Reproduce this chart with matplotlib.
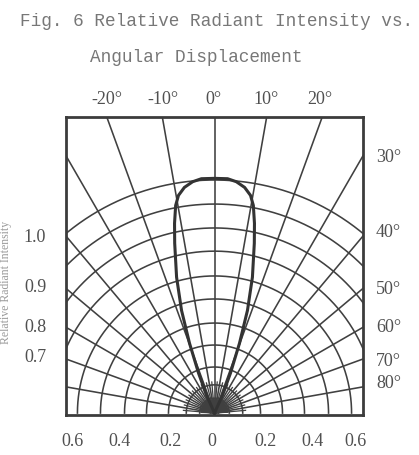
import numpy as np
import matplotlib
matplotlib.use("Agg")
import matplotlib.pyplot as plt

# Kurva vyzařovací charakteristiky (úhel od osy ve stupních, relativní intenzita)
angles = [0, 3.2, 5.4, 7.6, 9.4, 10.6, 11.9, 13.2, 15.6, 17.8, 19.7, 21.8, 24.0, 25.0]
intensity = [1.0, 1.0, 0.99, 0.97, 0.94, 0.90, 0.826, 0.743, 0.601, 0.460, 0.316, 0.183, 0.084, 0.0]

# Popisky
top_labels = ["-20°", "-10°", "0°", "10°", "20°"]
right_labels = ["30°", "40°", "50°", "60°", "70°", "80°"]
left_labels = ["1.0", "0.9", "0.8", "0.7"]
bottom_labels = ["0.6", "0.4", "0.2", "0", "0.2", "0.4", "0.6"]

# Mřížka (poloměry kružnic v jednotkách osy, 1 = polovina šířky rámu)
ring_radii = [0.027, 0.10, 0.19, 0.31, 0.458, 0.606, 0.768, 0.923, 1.09, 1.246, 1.407, 1.569]
main_spokes = list(range(-80, 81, 10))
R_PEAK = 1.58

fig = plt.figure(figsize=(4.19, 4.55), dpi=100)
ax = fig.add_axes([66 / 419, 40 / 455, 297 / 419, 298 / 455])
ax.set_xlim(-1, 1)
ax.set_ylim(-0.013, 1.993)
ax.set_xticks([])
ax.set_yticks([])
for s in ax.spines.values():
    s.set_linewidth(2.0)
    s.set_color("#3c3c3c")

grid_col = "#404040"
t = np.radians(np.linspace(-90, 90, 400))
for r in ring_radii:
    ax.plot(r * np.sin(t), r * np.cos(t), color=grid_col, lw=1.15)

for a in main_spokes:
    ar = np.radians(a)
    ax.plot([0, 3 * np.sin(ar)], [0, 3 * np.cos(ar)], color=grid_col, lw=1.15)

# hustší paprsky u počátku
for a in range(-85, 86, 10):
    ar = np.radians(a)
    ax.plot([0, 0.21 * np.sin(ar)], [0, 0.21 * np.cos(ar)], color=grid_col, lw=0.9)
for a in np.arange(-88, 89, 2.5):
    ar = np.radians(a)
    ax.plot([0, 0.09 * np.sin(ar)], [0, 0.09 * np.cos(ar)], color=grid_col, lw=0.7)

# křivka (symetrická)
th = np.radians(np.array(angles))
r = np.array(intensity) * R_PEAK
ang_full = np.concatenate([-th[::-1], th[1:]])
r_full = np.concatenate([r[::-1], r[1:]])
ax.plot(r_full * np.sin(ang_full), r_full * np.cos(ang_full), color="#333333", lw=2.2, zorder=5)

# texty
title_kw = dict(family="Liberation Mono", color="#777777", fontsize=12.8, ha="center", va="center")
fig.text(217 / 419, 1 - 22 / 455, "Fig. 6 Relative Radiant Intensity vs.", **title_kw)
fig.text(196 / 419, 1 - 58 / 455, "Angular Displacement", **title_kw)

lab_kw = dict(family="Liberation Serif", color="#505050", fontsize=13, va="center")
top_x = [107, 163, 213, 266, 320]
for lab, x in zip(top_labels, top_x):
    fig.text(x / 419, 1 - 100 / 455, lab, ha="center", **lab_kw)

right_y = [158, 233, 290, 327, 362, 384]
for lab, y in zip(right_labels, right_y):
    fig.text(376 / 419, 1 - y / 455, lab, ha="left", **lab_kw)

left_y = [237, 288, 327, 358]
for lab, y in zip(left_labels, left_y):
    fig.text(35 / 419, 1 - y / 455, lab, ha="center", **lab_kw)

bottom_x = [72, 119, 170, 212, 265, 312, 355]
for lab, x in zip(bottom_labels, bottom_x):
    fig.text(x / 419, 1 - 441 / 455, lab, ha="center", **lab_kw)

fig.text(6 / 419, 1 - 282 / 455, "Relative Radiant Intensity", rotation=90,
         family="Liberation Serif", color="#9a9a9a", fontsize=8.5, ha="center", va="center")

fig.savefig("out.png", dpi=100)
